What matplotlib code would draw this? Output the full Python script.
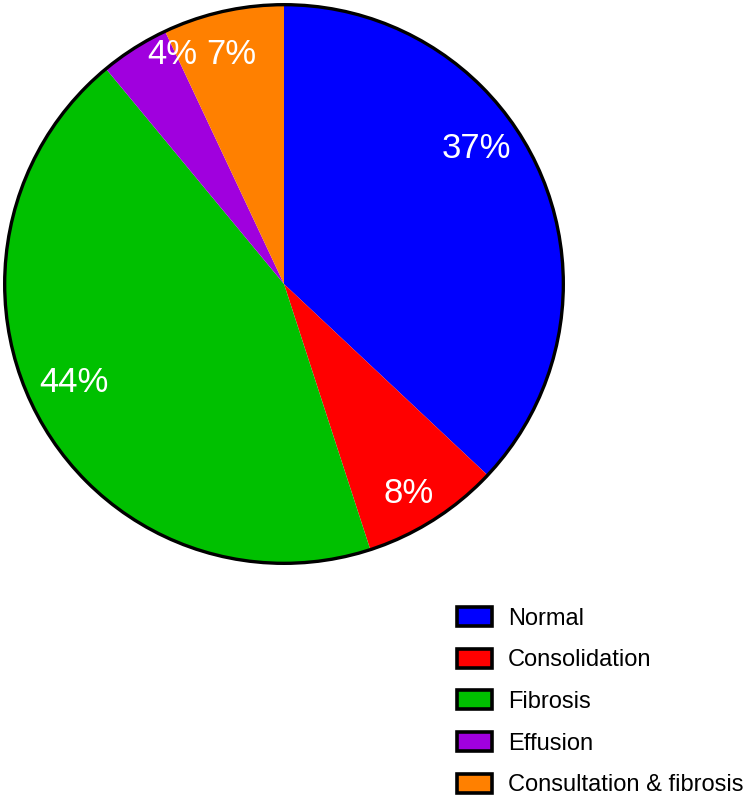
import matplotlib
matplotlib.use("Agg")
import matplotlib.pyplot as plt
from matplotlib.patches import Patch, Circle

categories = ["Normal", "Consolidation", "Fibrosis", "Effusion", "Consultation & fibrosis"]
values = [37, 8, 44, 4, 7]
colors = ["#0000FF", "#FF0000", "#00C000", "#A000DE", "#FF8000"]
pct_labels = ["37%", "8%", "44%", "4%", "7%"]
# label positions in axes fraction (style only)
label_pos = [(0.843, 0.741), (0.721, 0.127), (0.126, 0.324), (0.301, 0.908), (0.407, 0.908)]

plt.rcParams['font.family'] = ['Liberation Sans', 'DejaVu Sans']
W, H = 750, 805
fig = plt.figure(figsize=(W/100, H/100), dpi=100)
cx, cy, r = 284, 284, 281
ax = fig.add_axes([(cx - r)/W, (H - cy - r)/H, 2*r/W, 2*r/H])
wedges, _ = ax.pie(values, colors=colors, startangle=90, counterclock=False,
                   radius=1, wedgeprops=dict(linewidth=0))
ax.add_patch(Circle((0, 0), 1, fill=False, edgecolor='black', linewidth=2.4))
ax.set_xlim(-1.006, 1.006)
ax.set_ylim(-1.006, 1.006)
ax.set_aspect('equal')
ax.axis('off')
for lab, (x, y) in zip(pct_labels, label_pos):
    ax.text(x, y, lab, transform=ax.transAxes, ha='center', va='center',
            color='white', fontsize=25)

handles = [Patch(facecolor=c, edgecolor='black', linewidth=2.6) for c in colors]
fig.legend(handles, categories, loc='upper left',
           bbox_to_anchor=(457/W, 1 - 607/H), frameon=False, fontsize=17,
           handlelength=1.48, handleheight=0.85, labelspacing=0.81,
           handletextpad=0.68, borderaxespad=0, borderpad=0)
fig.savefig("out.png", dpi=100)
